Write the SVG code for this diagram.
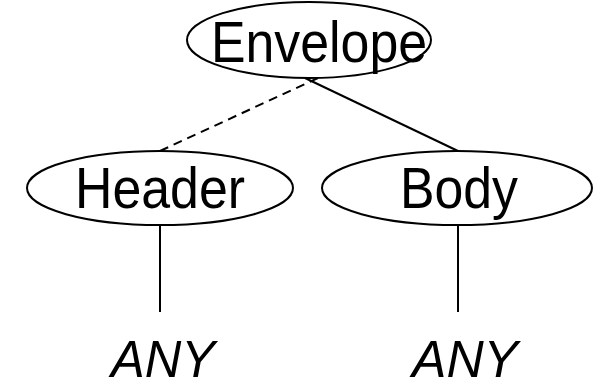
<svg xmlns="http://www.w3.org/2000/svg" width="598" height="388" viewBox="0 0 598 388">
  <style>
    .node ellipse { fill: #fff; stroke: #000; stroke-width: 2; }
    .label { font-family: "Liberation Sans", "DejaVu Sans", sans-serif; font-size: 58px; fill: #000; text-anchor: middle; }
    .any { font-style: italic; font-size: 52px; }
    .edge { stroke: #000; stroke-width: 2; fill: none; }
    .dashed { stroke-dasharray: 9 6; }
  </style>
  <rect width="598" height="388" fill="#fff"/>
  <g id="connectors">
    <line class="edge dashed" x1="160" y1="151" x2="318" y2="78"/>
    <line class="edge" x1="305" y1="78" x2="458" y2="151"/>
    <line class="edge" x1="160" y1="225" x2="160" y2="312" stroke-width="1.5"/>
    <line class="edge" x1="458" y1="225" x2="458" y2="312" stroke-width="1.5"/>
  </g>
  <g id="envelope" class="node">
    <ellipse cx="309" cy="40" rx="122" ry="38"/>
    <text class="label" x="319" y="62" textLength="216" lengthAdjust="spacingAndGlyphs">Envelope</text>
  </g>
  <g id="header" class="node">
    <ellipse cx="160" cy="188" rx="133" ry="37"/>
    <text class="label" x="160" y="208" textLength="170" lengthAdjust="spacingAndGlyphs">Header</text>
  </g>
  <g id="body" class="node">
    <ellipse cx="457" cy="188" rx="135" ry="37"/>
    <text class="label" x="459" y="208" textLength="118" lengthAdjust="spacingAndGlyphs">Body</text>
  </g>
  <g id="any-header" class="node">
    <text class="label any" x="163" y="377" textLength="104" lengthAdjust="spacingAndGlyphs">ANY</text>
  </g>
  <g id="any-body" class="node">
    <text class="label any" x="465" y="377" textLength="106" lengthAdjust="spacingAndGlyphs">ANY</text>
  </g>
</svg>
